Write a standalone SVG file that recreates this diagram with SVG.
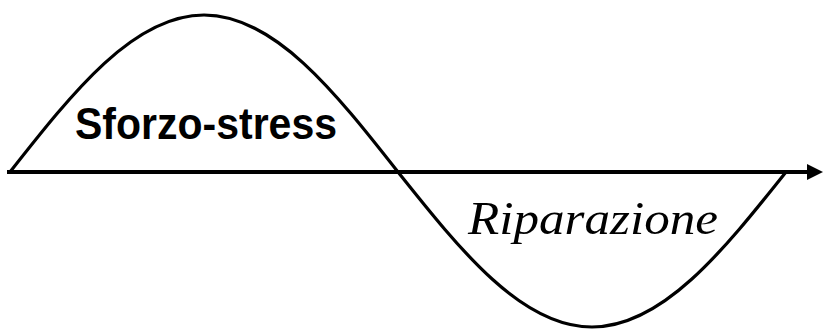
<svg xmlns="http://www.w3.org/2000/svg" width="823" height="331" viewBox="0 0 823 331">
<style>
.wave{fill:none;stroke:#000;stroke-width:3.2}
.axis{stroke:#000;stroke-width:4.2}
.lbl1{font-family:"Liberation Sans",Arial,sans-serif;font-weight:bold;font-size:44px;fill:#000}
.lbl2{font-family:"Liberation Serif","Times New Roman",serif;font-style:italic;font-size:47px;fill:#000}
</style>
<rect width="823" height="331" fill="#fff"/>
<g id="connectors">
<path id="wave" class="wave" d="M10,172 C73.27,91.57 133.79,15 204,15 C274.21,15 334.73,91.57 398,172 C461.27,251.4 521.79,327 592,327 C662.21,327 722.73,251.4 786,172"/>
<line id="axis" class="axis" x1="7" y1="172" x2="810" y2="172"/>
<polygon points="807,164 823,172 807,180" fill="#000"/>
</g>
<g id="stress">
<text class="lbl1" x="75" y="139" textLength="262" lengthAdjust="spacingAndGlyphs">Sforzo-stress</text>
</g>
<g id="riparazione">
<text class="lbl2" x="468" y="234" textLength="250" lengthAdjust="spacingAndGlyphs">Riparazione</text>
</g>
</svg>
